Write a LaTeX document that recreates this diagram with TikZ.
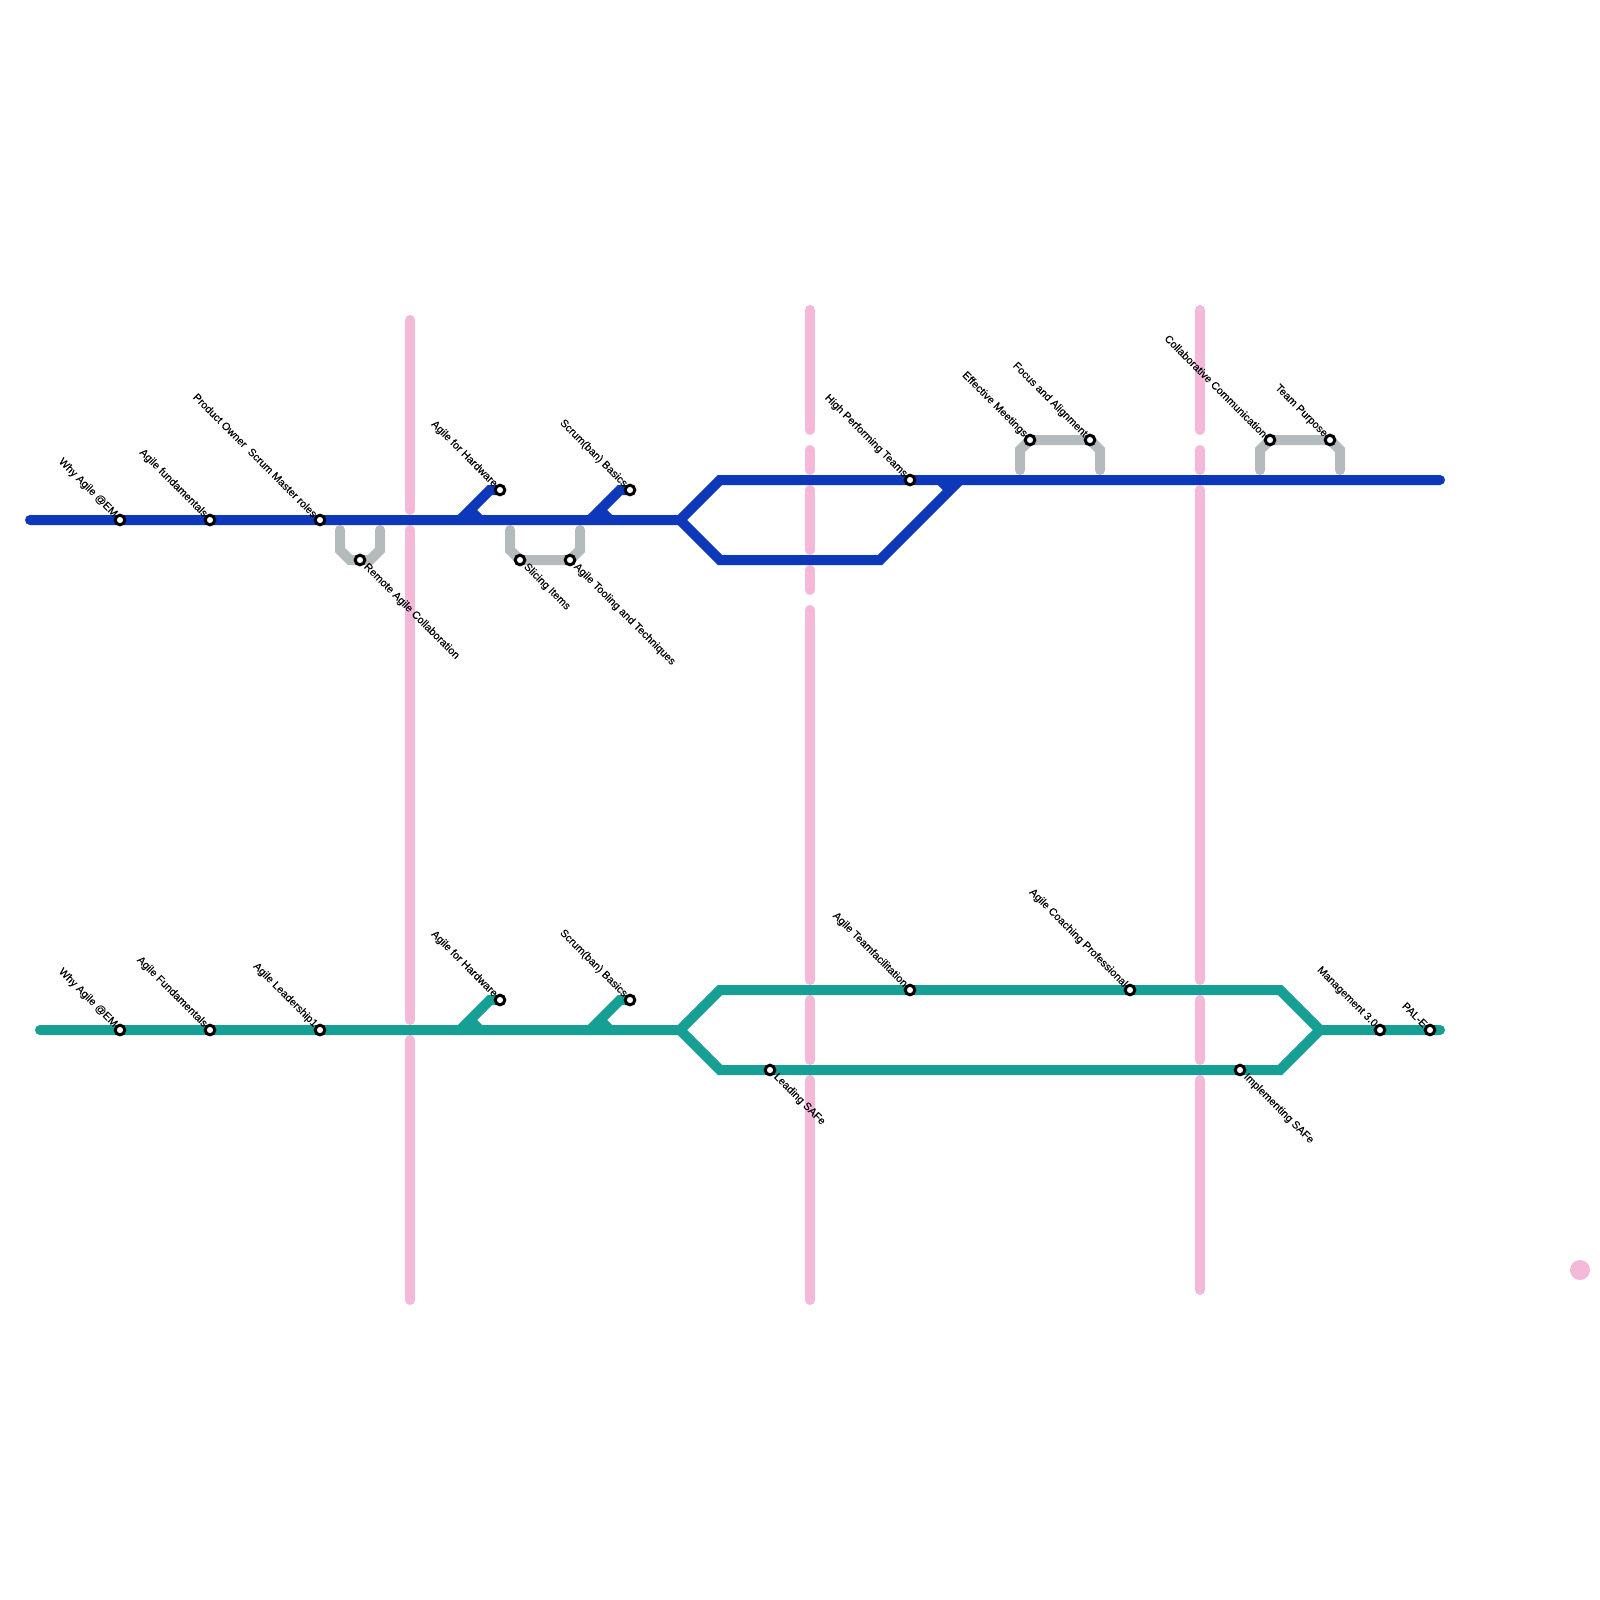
\documentclass[tikz,border=0pt]{standalone}
\usepackage{fontspec}
\setmainfont{Liberation Sans}
\definecolor{pinkline}{HTML}{F4B8D9}
\definecolor{blueline}{HTML}{0E38BA}
\definecolor{tealline}{HTML}{169F94}
\definecolor{grayline}{HTML}{B4BBBC}
\tikzset{
  x=1pt,y=-1pt,
  pinkseg/.style={draw=pinkline,line width=10pt,line cap=round},
  grayseg/.style={draw=grayline,line width=10pt,line cap=round,line join=miter},
  blueseg/.style={draw=blueline,line width=10pt,line cap=round,line join=miter},
  tealseg/.style={draw=tealline,line width=10pt,line cap=round,line join=miter},
  bluestub/.style={draw=blueline,line width=10pt,line cap=butt},
  tealstub/.style={draw=tealline,line width=10pt,line cap=butt},
  station/.style={circle,draw=black,fill=white,line width=3pt,minimum size=9.6pt,inner sep=0pt},
  lblup/.style={rotate=-45,anchor=east,inner sep=0pt,font=\fontsize{10.7}{12}\selectfont\addfontfeature{FakeBold=0.15},text=black,xshift=-6.2pt},
  lbldown/.style={rotate=-45,anchor=west,inner sep=0pt,font=\fontsize{10.7}{12}\selectfont\addfontfeature{FakeBold=0.15},text=black,xshift=7.5pt},
}
\begin{document}
\begin{tikzpicture}
\useasboundingbox (0,0) rectangle (1600,1600);
% pink lines
\coordinate (pa1) at (410,320); \coordinate (pa2) at (410,510);
\coordinate (pa3) at (410,530); \coordinate (pa4) at (410,1020);
\coordinate (pa5) at (410,1040); \coordinate (pa6) at (410,1300);
\draw[pinkseg] (pa1)--(pa2); \draw[pinkseg] (pa3)--(pa4); \draw[pinkseg] (pa5)--(pa6);
\coordinate (pb1) at (810,310); \coordinate (pb2) at (810,430);
\coordinate (pb3) at (810,450); \coordinate (pb4) at (810,470);
\coordinate (pb5) at (810,490); \coordinate (pb6) at (810,550);
\coordinate (pb7) at (810,570); \coordinate (pb8) at (810,590);
\coordinate (pb9) at (810,610); \coordinate (pb10) at (810,980);
\coordinate (pb11) at (810,1000); \coordinate (pb12) at (810,1060);
\coordinate (pb13) at (810,1080); \coordinate (pb14) at (810,1300);
\draw[pinkseg] (pb1)--(pb2); \draw[pinkseg] (pb3)--(pb4); \draw[pinkseg] (pb5)--(pb6);
\draw[pinkseg] (pb7)--(pb8); \draw[pinkseg] (pb9)--(pb10); \draw[pinkseg] (pb11)--(pb12);
\draw[pinkseg] (pb13)--(pb14);
\coordinate (pc1) at (1200,310); \coordinate (pc2) at (1200,430);
\coordinate (pc3) at (1200,450); \coordinate (pc4) at (1200,470);
\coordinate (pc5) at (1200,490); \coordinate (pc6) at (1200,980);
\coordinate (pc7) at (1200,1000); \coordinate (pc8) at (1200,1060);
\coordinate (pc9) at (1200,1080); \coordinate (pc10) at (1200,1290);
\draw[pinkseg] (pc1)--(pc2); \draw[pinkseg] (pc3)--(pc4); \draw[pinkseg] (pc5)--(pc6);
\draw[pinkseg] (pc7)--(pc8); \draw[pinkseg] (pc9)--(pc10);
\node[circle,fill=pinkline,minimum size=20pt,inner sep=0pt] (pinkdot) at (1580,1270) {};
% station positions
\coordinate (b1) at (120,520);
\coordinate (b2) at (210,520);
\coordinate (b3) at (320,520);
\coordinate (b4) at (360,560);
\coordinate (b5) at (500,490);
\coordinate (b6) at (520,560);
\coordinate (b7) at (570,560);
\coordinate (b8) at (630,490);
\coordinate (b9) at (910,480);
\coordinate (b10) at (1030,440);
\coordinate (b11) at (1090,440);
\coordinate (b12) at (1270,440);
\coordinate (b13) at (1330,440);
\coordinate (t1) at (120,1030);
\coordinate (t2) at (210,1030);
\coordinate (t3) at (320,1030);
\coordinate (t4) at (500,1000);
\coordinate (t5) at (630,1000);
\coordinate (t6) at (910,990);
\coordinate (t7) at (1130,990);
\coordinate (t8) at (770,1070);
\coordinate (t9) at (1240,1070);
\coordinate (t10) at (1380,1030);
\coordinate (t11) at (1430,1030);
% routing points
\coordinate (bs) at (30,520); \coordinate (bj) at (680,520);
\coordinate (bu) at (720,480); \coordinate (be) at (1440,480);
\coordinate (bl) at (720,560); \coordinate (bm) at (880,560); \coordinate (bn) at (960,480);
\coordinate (bx1) at (460,520); \coordinate (bx2) at (490,490);
\coordinate (bx3) at (590,520); \coordinate (bx4) at (620,490);
\coordinate (bq1) at (470,510); \coordinate (bq2) at (480,520);
\coordinate (bq3) at (600,510); \coordinate (bq4) at (610,520);
\coordinate (bq5) at (940,480); \coordinate (bq6) at (950,490);
\coordinate (ts) at (40,1030); \coordinate (tj) at (680,1030);
\coordinate (tu) at (720,990); \coordinate (tv) at (1280,990);
\coordinate (tl) at (720,1070); \coordinate (tw) at (1280,1070);
\coordinate (tk) at (1320,1030); \coordinate (te) at (1440,1030);
\coordinate (tx1) at (460,1030); \coordinate (tx2) at (490,1000);
\coordinate (tx3) at (590,1030); \coordinate (tx4) at (620,1000);
\coordinate (tq1) at (470,1020); \coordinate (tq2) at (480,1030);
\coordinate (tq3) at (600,1020); \coordinate (tq4) at (610,1030);
% gray loops
\coordinate (g1a) at (340,530); \coordinate (g1b) at (340,550); \coordinate (g1c) at (350,560);
\coordinate (g1d) at (370,560); \coordinate (g1e) at (380,550); \coordinate (g1f) at (380,530);
\draw[grayseg] (g1a)--(g1b)--(g1c)--(g1d)--(g1e)--(g1f);
\coordinate (g2a) at (510,530); \coordinate (g2b) at (510,550);
\coordinate (g2e) at (580,550); \coordinate (g2f) at (580,530);
\draw[grayseg] (g2a)--(g2b)--(b6)--(b7)--(g2e)--(g2f);
\coordinate (g3a) at (1020,470); \coordinate (g3b) at (1020,450);
\coordinate (g3e) at (1100,450); \coordinate (g3f) at (1100,470);
\draw[grayseg] (g3a)--(g3b)--(b10)--(b11)--(g3e)--(g3f);
\coordinate (g4a) at (1260,470); \coordinate (g4b) at (1260,450);
\coordinate (g4e) at (1340,450); \coordinate (g4f) at (1340,470);
\draw[grayseg] (g4a)--(g4b)--(b12)--(b13)--(g4e)--(g4f);
% blue line
\draw[blueseg] (bs)--(bj)--(bu)--(be);
\draw[blueseg] (bj)--(bl)--(bm)--(bn);
\draw[blueseg] (bx1)--(bx2)--(b5);
\draw[blueseg] (bx3)--(bx4)--(b8);
\draw[bluestub] (bq1)--(bq2);
\draw[bluestub] (bq3)--(bq4);
\draw[bluestub] (bq5)--(bq6);
% teal line
\draw[tealseg] (ts)--(tj)--(tu)--(tv)--(tk)--(te);
\draw[tealseg] (tj)--(tl)--(tw)--(tk);
\draw[tealseg] (tx1)--(tx2)--(t4);
\draw[tealseg] (tx3)--(tx4)--(t5);
\draw[tealstub] (tq1)--(tq2);
\draw[tealstub] (tq3)--(tq4);
% stations
\foreach \n in {b1,b2,b3,b4,b5,b6,b7,b8,b9,b10,b11,b12,b13,t1,t2,t3,t4,t5,t6,t7,t8,t9,t10,t11}
  \node[station] (st\n) at (\n) {};
% labels
\node[lblup] (lb1) at (b1) {Why Agile @EM};
\node[lblup] (lb2) at (b2) {Agile fundamentals};
\node[lblup] (lb3) at (b3) {Product Owner\ \ Scrum Master roles};
\node[lbldown] (lb4) at (b4) {Remote Agile Collaboration};
\node[lblup] (lb5) at (b5) {Agile for Hardware};
\node[lbldown] (lb6) at (b6) {Slicing Items};
\node[lbldown] (lb7) at (b7) {Agile Tooling and Techniques};
\node[lblup] (lb8) at (b8) {Scrum(ban) Basics};
\node[lblup] (lb9) at (b9) {High Performing Teams};
\node[lblup] (lb10) at (b10) {Effective Meetings};
\node[lblup] (lb11) at (b11) {Focus and Alignment};
\node[lblup] (lb12) at (b12) {Collaborative Communication};
\node[lblup] (lb13) at (b13) {Team Purpose};
\node[lblup] (lt1) at (t1) {Why Agile @EM};
\node[lblup] (lt2) at (t2) {Agile Fundamentals};
\node[lblup] (lt3) at (t3) {Agile Leadership1};
\node[lblup] (lt4) at (t4) {Agile for Hardware};
\node[lblup] (lt5) at (t5) {Scrum(ban) Basics};
\node[lblup] (lt6) at (t6) {Agile Teamfacilitation};
\node[lblup] (lt7) at (t7) {Agile Coaching Professional};
\node[lbldown] (lt8) at (t8) {Leading SAFe};
\node[lbldown] (lt9) at (t9) {Implementing SAFe};
\node[lblup] (lt10) at (t10) {Management 3.0};
\node[lblup] (lt11) at (t11) {PAL-E};
\end{tikzpicture}
\end{document}
